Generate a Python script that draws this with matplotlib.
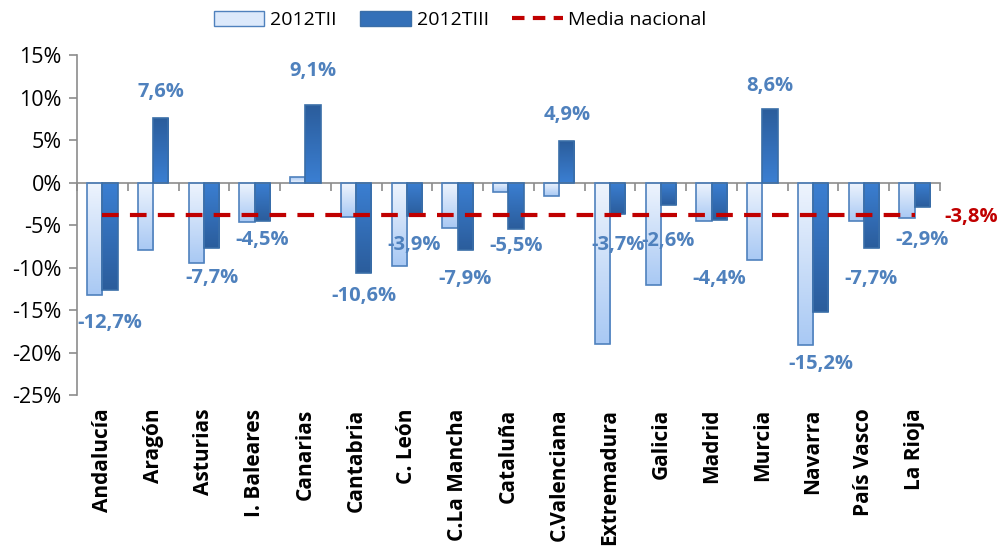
import numpy as np
import matplotlib
matplotlib.use('Agg')
import matplotlib.pyplot as plt
from matplotlib.colors import LinearSegmentedColormap
from matplotlib.patches import Patch
from matplotlib.lines import Line2D
import matplotlib.transforms as mtransforms

plt.rcParams['font.family'] = ['Open Sans', 'DejaVu Sans']

# Data
regions = ['Andalucía', 'Aragón', 'Asturias', 'I. Baleares', 'Canarias', 'Cantabria',
           'C. León', 'C.La Mancha', 'Cataluña', 'C.Valenciana', 'Extremadura',
           'Galicia', 'Madrid', 'Murcia', 'Navarra', 'País Vasco', 'La Rioja']
tii = [-13.2, -7.9, -9.5, -4.6, 0.7, -4.0, -9.8, -5.3, -1.1, -1.6, -19.0,
       -12.1, -4.5, -9.1, -19.1, -4.5, -4.2]
tiii = [-12.7, 7.6, -7.7, -4.5, 9.1, -10.6, -3.9, -7.9, -5.5, 4.9, -3.7,
        -2.6, -4.4, 8.6, -15.2, -7.7, -2.9]
media = -3.8

# label heights (centre of text, in %), as placed in the original
label_y = [-16.5, 10.6, -11.2, -6.7, 13.1, -13.4, -7.4, -11.4, -7.5, 7.9, -7.4,
           -6.9, -11.4, 11.4, -21.4, -11.3, -6.7]

fig = plt.figure(figsize=(10.05, 5.5), dpi=100)
ax = fig.add_axes([0.0766, 0.2818, 0.8587, 0.618])

x = np.arange(len(regions))
w = 0.3

light_cmap = LinearSegmentedColormap.from_list('l', ['#eef4fd', '#a9c9f4'])
dark_cmap = LinearSegmentedColormap.from_list('d', ['#3b7fd2', '#2b5d9c'])
grad = np.linspace(0, 1, 64).reshape(-1, 1)

def grad_bars(xs, vals, cmap, edge):
    bars = ax.bar(xs, vals, w, facecolor='none', edgecolor=edge, linewidth=1.2, zorder=3)
    for b, v in zip(bars, vals):
        x0 = b.get_x()
        x1 = x0 + b.get_width()
        # gradient runs away from zero
        im = ax.imshow(grad, extent=[x0, x1, v, 0] if v < 0 else [x0, x1, 0, v],
                       cmap=cmap, aspect='auto', zorder=2,
                       origin='upper' if v < 0 else 'lower')
        im.set_clip_path(b)
    return bars

grad_bars(x - w / 2, tii, light_cmap, '#4f81bd')
grad_bars(x + w / 2, tiii, dark_cmap, '#3a6ea8')
ax.set_xlim(-0.5, len(regions) - 0.5)
ax.set_ylim(-25, 15)

ax.plot([0, len(regions) - 1], [media, media], color='#c00000', lw=3,
        dashes=(4, 2.7), zorder=4)

for xi, v, ly in zip(x, tiii, label_y):
    ax.text(xi + w / 2, ly, f'{v:.1f}%'.replace('.', ','), ha='center', va='center',
            fontsize=14.5, fontweight='bold', color='#4f81bd', zorder=5)
ax.text(len(regions) - 0.5 + 0.62, media - 0.2, f'{media:.1f}%'.replace('.', ','),
        ha='center', va='center', fontsize=14.5, fontweight='bold', color='#c00000',
        clip_on=False)

# axes styling
for s in ['top', 'right']:
    ax.spines[s].set_visible(False)
ax.spines['left'].set_color('#8c8c8c')
ax.spines['left'].set_linewidth(1.2)
ax.spines['bottom'].set_position(('data', 0))
ax.spines['bottom'].set_color('#8c8c8c')
ax.spines['bottom'].set_linewidth(1.2)
ax.set_yticks(np.arange(-25, 16, 5))
ax.set_yticklabels([f'{t}%' for t in range(-25, 16, 5)], fontsize=15.5)
ax.tick_params(axis='y', length=6, color='#8c8c8c', width=1.2, pad=5)
ax.set_xticks(np.arange(-0.5, len(regions), 1))
ax.set_xticklabels([])
ax.tick_params(axis='x', length=6, color='#8c8c8c', width=1.2, direction='out')

trans = mtransforms.blended_transform_factory(ax.transData, ax.transAxes)
for xi, name in zip(x, regions):
    ax.text(xi, -0.04, name, transform=trans, rotation=90, ha='center', va='top',
            fontsize=15, fontweight='bold')

handles = [Patch(facecolor='#dce9fb', edgecolor='#4f81bd', label='2012TII'),
           Patch(facecolor='#3470b8', edgecolor='#3a6ea8', label='2012TIII'),
           Line2D([0], [0], color='#c00000', lw=3, dashes=(3, 2), label='Media nacional')]
fig.legend(handles=handles, loc='center', bbox_to_anchor=(0.458, 0.963), ncol=3,
           frameon=False, fontsize=14, handlelength=2.6, handleheight=0.8,
           columnspacing=1.2, handletextpad=0.3)

fig.savefig('out.png', dpi=100)
